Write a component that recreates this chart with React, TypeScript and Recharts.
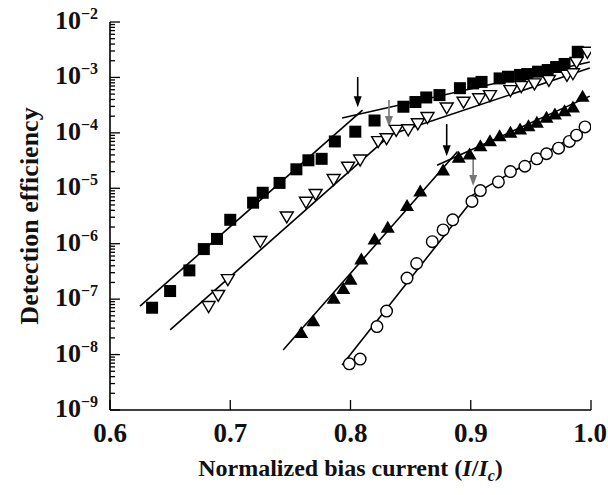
import React from 'react'
import { ComposedChart, Line, ReferenceLine, Scatter, XAxis, YAxis } from 'recharts'

// filled squares
const squareCurrent = [
  0.635, 0.65, 0.666, 0.678, 0.689, 0.7, 0.719, 0.727, 0.741, 0.755, 0.765, 0.776, 0.787, 0.804, 0.82, 0.844,
  0.854, 0.863, 0.874, 0.891, 0.902, 0.909, 0.924, 0.931, 0.941, 0.947, 0.956, 0.964, 0.971, 0.978, 0.989,
]
const squareEff = [
  7.0e-8, 1.4e-7, 3.3e-7, 8.0e-7, 1.22e-6, 2.7e-6, 5.5e-6, 8.3e-6, 1.25e-5, 2.2e-5, 3.2e-5, 3.4e-5, 7.0e-5,
  1.05e-4, 1.67e-4, 2.96e-4, 3.6e-4, 4.35e-4, 4.8e-4, 6.4e-4, 7.8e-4, 8.3e-4, 9.6e-4, 1.03e-3, 1.11e-3, 1.15e-3,
  1.27e-3, 1.36e-3, 1.54e-3, 1.75e-3, 2.9e-3,
]

// open down-triangles
const downCurrent = [
  0.682, 0.69, 0.698, 0.725, 0.747, 0.763, 0.771, 0.786, 0.798, 0.808, 0.823, 0.83, 0.838, 0.848, 0.856, 0.864,
  0.88, 0.894, 0.907, 0.916, 0.933, 0.942, 0.953, 0.965, 0.98, 0.985, 0.988, 0.997,
]
const downEff = [
  7.5e-8, 1.19e-7, 2.3e-7, 1.12e-6, 3.1e-6, 5.7e-6, 7.9e-6, 1.47e-5, 2.45e-5, 3.3e-5, 7.1e-5, 8.0e-5, 1.13e-4,
  1.16e-4, 1.49e-4, 1.93e-4, 2.87e-4, 3.65e-4, 4.2e-4, 4.8e-4, 5.9e-4, 7.0e-4, 7.8e-4, 9.0e-4, 1.11e-3, 1.19e-3,
  1.9e-3, 2.9e-3,
]

// filled up-triangles
const upCurrent = [
  0.759, 0.769, 0.786, 0.794, 0.8, 0.809, 0.82, 0.831, 0.847, 0.858, 0.877, 0.89, 0.899, 0.908, 0.916, 0.924,
  0.933, 0.941, 0.948, 0.955, 0.963, 0.97, 0.978, 0.985, 0.993,
]
const upEff = [
  2.4e-8, 3.9e-8, 1.0e-7, 1.5e-7, 2.2e-7, 5.1e-7, 1.17e-6, 1.9e-6, 4.7e-6, 8.6e-6, 2.05e-5, 3.5e-5, 4.0e-5,
  5.6e-5, 6.9e-5, 8.5e-5, 9.8e-5, 1.13e-4, 1.29e-4, 1.49e-4, 1.83e-4, 2.1e-4, 2.4e-4, 2.8e-4, 4.4e-4,
]

// open circles
const circleCurrent = [
  0.799, 0.808, 0.822, 0.83, 0.847, 0.855, 0.868, 0.877, 0.885, 0.901, 0.908, 0.923, 0.933, 0.945, 0.955, 0.963,
  0.973, 0.982, 0.988, 0.995,
]
const circleEff = [
  6.8e-9, 8.3e-9, 3.2e-8, 6.1e-8, 2.4e-7, 4.4e-7, 1.09e-6, 1.77e-6, 2.7e-6, 5.8e-6, 9.1e-6, 1.3e-5, 2.0e-5,
  2.5e-5, 3.4e-5, 4.2e-5, 5.3e-5, 7.0e-5, 9.1e-5, 1.28e-4,
]

// fitted straight segments: [x0, y0, x1, y1]
const fitSquare = [
  [0.625, 7.5e-8, 0.81, 2.58e-4],
  [0.793, 1.85e-4, 0.999, 1.9e-3],
]
const fitDown = [
  [0.65, 2.8e-8, 0.835, 9.9e-5],
  [0.82, 7.4e-5, 0.999, 1.48e-3],
]
const fitUp = [
  [0.744, 1.21e-8, 0.889, 4.6e-5],
  [0.872, 2.6e-5, 0.999, 4.6e-4],
]
const fitCircle = [
  [0.793, 6.5e-9, 0.908, 9.3e-6],
  [0.899, 7.0e-6, 0.999, 1.28e-4],
]

// knee arrows
const arrowCurrent = [0.806, 0.832, 0.88, 0.902]
const arrowFrom = [1.02e-3, 3.9e-4, 1.44e-4, 4.0e-5]
const arrowTo = [2.9e-4, 1.28e-4, 3.8e-5, 1.1e-5]
const arrowTone = ['#000', '#777', '#000', '#777']

const xTicks = [0.6, 0.7, 0.8, 0.9, 1.0]
const decades = [-9, -8, -7, -6, -5, -4, -3, -2]

const yTicks: number[] = []
decades.forEach((d) => {
  yTicks.push(Math.pow(10, d))
  if (d < -2) for (let k = 2; k <= 9; k++) yTicks.push(k * Math.pow(10, d))
})

const pts = (xs: number[], ys: number[]) => xs.map((x, i) => ({ x, y: ys[i] }))
const seg = (s: number[]) => [
  { x: s[0], y: s[1] },
  { x: s[2], y: s[3] },
]

const FONT = '"Liberation Serif", "Times New Roman", serif'
const isDecade = (v: number) => Math.abs(Math.log10(v) - Math.round(Math.log10(v))) < 1e-6

const LeftTick = (props: any) => {
  const { x, y, payload } = props
  const major = isDecade(payload.value)
  const exp = -Math.round(Math.log10(payload.value))
  return (
    <g>
      <line x1={x} x2={x + (major ? 10 : 5)} y1={y} y2={y} stroke="#000" strokeWidth={1.3} />
      {major && (
        <text x={x - 12} y={y} dy={7} textAnchor="end" fontFamily={FONT} fontWeight="bold" fontSize={26} fill="#111">
          <tspan>10</tspan>
          <tspan dy={-10} fontSize={16}>{'\u2212' + exp}</tspan>
        </text>
      )}
    </g>
  )
}

const RightTick = (props: any) => {
  const { x, y, payload } = props
  const major = isDecade(payload.value)
  return <line x1={x} x2={x - (major ? 10 : 5)} y1={y} y2={y} stroke="#000" strokeWidth={1.3} />
}

const BottomTick = (props: any) => {
  const { x, y, payload, index } = props
  const last = index === xTicks.length - 1
  return (
    <g>
      <line x1={x} x2={x} y1={y} y2={y - 10} stroke="#000" strokeWidth={1.3} />
      <text
        x={last ? x + 16 : x}
        y={y + 32}
        textAnchor={last ? 'end' : 'middle'}
        fontFamily={FONT}
        fontWeight="bold"
        fontSize={27}
        fill="#111"
      >
        {payload.value.toFixed(1)}
      </text>
    </g>
  )
}

const TopTick = (props: any) => {
  const { x, y } = props
  return <line x1={x} x2={x} y1={y} y2={y + 10} stroke="#000" strokeWidth={1.3} />
}

const Square = (p: any) => <rect x={p.cx - 6} y={p.cy - 6} width={12} height={12} fill="#000" />
const DownTri = (p: any) => (
  <polygon
    points={`${p.cx - 6.5},${p.cy - 4.5} ${p.cx + 6.5},${p.cy - 4.5} ${p.cx},${p.cy + 6.5}`}
    fill="#fff"
    stroke="#000"
    strokeWidth={1.4}
  />
)
const UpTri = (p: any) => (
  <polygon points={`${p.cx - 7},${p.cy + 4.5} ${p.cx + 7},${p.cy + 4.5} ${p.cx},${p.cy - 7.5}`} fill="#000" />
)
const Circle = (p: any) => <circle cx={p.cx} cy={p.cy} r={5.8} fill="#fff" stroke="#000" strokeWidth={1.4} />

const Arrow = (props: any) => {
  const { x1, y1, x2, y2, stroke } = props
  return (
    <g>
      <line x1={x1} y1={y1} x2={x2} y2={y2 - 8} stroke={stroke} strokeWidth={1.6} />
      <polygon points={`${x2 - 4},${y2 - 11} ${x2 + 4},${y2 - 11} ${x2},${y2}`} fill={stroke} />
    </g>
  )
}

const axisLine = { stroke: '#000', strokeWidth: 1.6 }

export default function App() {
  const fits = [...fitSquare, ...fitDown, ...fitUp, ...fitCircle]
  return (
    <div style={{ position: 'absolute', left: 0, top: 0 }}>
      <ComposedChart width={608} height={495} margin={{ top: 22, right: 17, bottom: 0, left: 0 }}>
        <XAxis
          xAxisId={0}
          type="number"
          dataKey="x"
          domain={[0.6, 1.0]}
          ticks={xTicks}
          interval={0}
          allowDataOverflow
          height={85}
          axisLine={axisLine}
          tickLine={false}
          tickSize={0}
          tickMargin={0}
          tick={<BottomTick />}
          label={(p: any) => {
            const vb = p.viewBox
            return (
              <text
                x={vb.x + vb.width / 2}
                y={vb.y + 66}
                textAnchor="middle"
                fontFamily={FONT}
                fontWeight="bold"
                fontSize={24}
                fill="#111"
              >
                Normalized bias current (<tspan fontStyle="italic">I</tspan>/<tspan fontStyle="italic">I</tspan>
                <tspan fontStyle="italic" fontSize={16} dy={5}>c</tspan>
                <tspan dy={-5}>)</tspan>
              </text>
            )
          }}
        />
        <XAxis
          xAxisId="top"
          orientation="top"
          type="number"
          domain={[0.6, 1.0]}
          ticks={xTicks}
          interval={0}
          allowDataOverflow
          height={0}
          axisLine={axisLine}
          tickLine={false}
          tickSize={0}
          tickMargin={0}
          tick={<TopTick />}
        />
        <YAxis
          yAxisId={0}
          type="number"
          dataKey="y"
          scale="log"
          domain={[1e-9, 1e-2]}
          ticks={yTicks}
          interval={0}
          allowDataOverflow
          width={110}
          axisLine={axisLine}
          tickLine={false}
          tickSize={0}
          tickMargin={0}
          tick={<LeftTick />}
          label={(p: any) => {
            const vb = p.viewBox
            const cx = 38
            const cy = vb.y + vb.height / 2
            return (
              <text
                x={cx}
                y={cy}
                transform={`rotate(-90, ${cx}, ${cy})`}
                textAnchor="middle"
                fontFamily={FONT}
                fontWeight="bold"
                fontSize={26}
                fill="#111"
              >
                Detection efficiency
              </text>
            )
          }}
        />
        <YAxis
          yAxisId="right"
          orientation="right"
          type="number"
          scale="log"
          domain={[1e-9, 1e-2]}
          ticks={yTicks}
          interval={0}
          allowDataOverflow
          width={0}
          axisLine={axisLine}
          tickLine={false}
          tickSize={0}
          tickMargin={0}
          tick={<RightTick />}
        />

        {fits.map((s, i) => (
          <Line
            key={'fit' + i}
            data={seg(s)}
            dataKey="y"
            stroke="#000"
            strokeWidth={1.6}
            dot={false}
            activeDot={false}
            isAnimationActive={false}
          />
        ))}

        <Scatter data={pts(squareCurrent, squareEff)} shape={Square} isAnimationActive={false} />
        <Scatter data={pts(downCurrent, downEff)} shape={DownTri} isAnimationActive={false} />
        <Scatter data={pts(upCurrent, upEff)} shape={UpTri} isAnimationActive={false} />
        <Scatter data={pts(circleCurrent, circleEff)} shape={Circle} isAnimationActive={false} />

        {arrowCurrent.map((x, i) => (
          <ReferenceLine
            key={'arrow' + i}
            segment={[
              { x, y: arrowFrom[i] },
              { x, y: arrowTo[i] },
            ]}
            stroke={arrowTone[i]}
            ifOverflow="visible"
            shape={(p: any) => <Arrow {...p} stroke={arrowTone[i]} />}
          />
        ))}
      </ComposedChart>
    </div>
  )
}
